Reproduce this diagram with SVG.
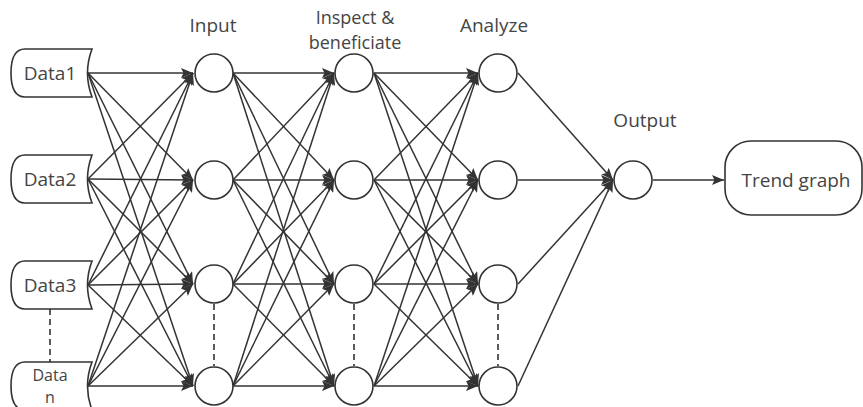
<svg xmlns="http://www.w3.org/2000/svg" width="863" height="407" viewBox="0 0 863 407">
  <style>
    .shape { fill: #ffffff; stroke: #333333; stroke-width: 1.6; }
    .edge { fill: none; stroke: #333333; stroke-width: 1.5; marker-end: url(#arrow); }
    .dash { fill: none; stroke: #333333; stroke-width: 1.6; stroke-dasharray: 6 4; }
    .label { font-family: "Open Sans", "Noto Sans", "DejaVu Sans", sans-serif; font-size: 19px; fill: #454545; text-anchor: middle; }
    .tight { font-size: 18px; }
    .small { font-size: 16px; }
  </style>
  <defs>
    <marker id="arrow" markerUnits="userSpaceOnUse" markerWidth="12" markerHeight="10" refX="12" refY="5" orient="auto">
      <path d="M0,0 L12,5 L0,10 L2.5,5 z" fill="#333333"/>
    </marker>
    <!-- stored-data shape: rounded left side, concave right side -->
    <path id="store" d="M-25,-24 L42,-24 Q33,0 42,24 L-25,24 C-36,24 -39,12 -39,0 C-39,-12 -36,-24 -25,-24 Z"/>
  </defs>
  <rect width="863" height="407" fill="#ffffff"/>

  <!-- column titles -->
  <g id="titles">
    <text class="label" x="213" y="32">Input</text>
    <text class="label tight" x="355" y="24">Inspect &amp;</text>
    <text class="label tight" x="355" y="49">beneficiate</text>
    <text class="label" x="494" y="32">Analyze</text>
    <text class="label" x="645" y="127">Output</text>
  </g>

  <!-- connectors -->
  <g id="connectors">
    <!-- data sources to input layer -->
    <path class="edge" d="M88,73 L193,73"/><path class="edge" d="M88,73 L193,180"/><path class="edge" d="M88,73 L193,284"/><path class="edge" d="M88,73 L193,386"/>
    <path class="edge" d="M88,179 L193,73"/><path class="edge" d="M88,179 L193,180"/><path class="edge" d="M88,179 L193,284"/><path class="edge" d="M88,179 L193,386"/>
    <path class="edge" d="M88,285 L193,73"/><path class="edge" d="M88,285 L193,180"/><path class="edge" d="M88,285 L193,284"/><path class="edge" d="M88,285 L193,386"/>
    <path class="edge" d="M88,386 L193,73"/><path class="edge" d="M88,386 L193,180"/><path class="edge" d="M88,386 L193,284"/><path class="edge" d="M88,386 L193,386"/>
    <!-- input layer to inspect layer -->
    <path class="edge" d="M233,73 L334,73"/><path class="edge" d="M233,73 L334,180"/><path class="edge" d="M233,73 L334,284"/><path class="edge" d="M233,73 L334,386"/>
    <path class="edge" d="M233,180 L334,73"/><path class="edge" d="M233,180 L334,180"/><path class="edge" d="M233,180 L334,284"/><path class="edge" d="M233,180 L334,386"/>
    <path class="edge" d="M233,284 L334,73"/><path class="edge" d="M233,284 L334,180"/><path class="edge" d="M233,284 L334,284"/><path class="edge" d="M233,284 L334,386"/>
    <path class="edge" d="M233,386 L334,73"/><path class="edge" d="M233,386 L334,180"/><path class="edge" d="M233,386 L334,284"/><path class="edge" d="M233,386 L334,386"/>
    <!-- inspect layer to analyze layer -->
    <path class="edge" d="M374,73 L478,73"/><path class="edge" d="M374,73 L478,180"/><path class="edge" d="M374,73 L478,284"/><path class="edge" d="M374,73 L478,386"/>
    <path class="edge" d="M374,180 L478,73"/><path class="edge" d="M374,180 L478,180"/><path class="edge" d="M374,180 L478,284"/><path class="edge" d="M374,180 L478,386"/>
    <path class="edge" d="M374,284 L478,73"/><path class="edge" d="M374,284 L478,180"/><path class="edge" d="M374,284 L478,284"/><path class="edge" d="M374,284 L478,386"/>
    <path class="edge" d="M374,386 L478,73"/><path class="edge" d="M374,386 L478,180"/><path class="edge" d="M374,386 L478,284"/><path class="edge" d="M374,386 L478,386"/>
    <!-- analyze layer to output -->
    <path class="edge" d="M518,73 L613,180"/><path class="edge" d="M518,180 L613,180"/><path class="edge" d="M518,284 L613,180"/><path class="edge" d="M518,386 L613,180"/>
    <!-- output to trend graph -->
    <path class="edge" d="M653,180 L724,180"/>
    <!-- ellipsis markers between rows 3 and n -->
    <path class="dash" d="M50,309 L50,362"/>
    <path class="dash" d="M214,304 L214,366"/>
    <path class="dash" d="M354,304 L354,366"/>
    <path class="dash" d="M498,304 L498,366"/>
  </g>

  <!-- data sources -->
  <g id="data1"><use href="#store" class="shape" x="50" y="73"/><text class="label" x="50" y="80">Data1</text></g>
  <g id="data2"><use href="#store" class="shape" x="50" y="179"/><text class="label" x="50" y="186">Data2</text></g>
  <g id="data3"><use href="#store" class="shape" x="50" y="285"/><text class="label" x="50" y="292">Data3</text></g>
  <g id="datan"><use href="#store" class="shape" x="50" y="386"/><text class="label small" x="50" y="381">Data</text><text class="label small" x="50" y="403">n</text></g>

  <!-- input layer -->
  <g id="in1"><circle class="shape" cx="214" cy="73" r="19"/></g>
  <g id="in2"><circle class="shape" cx="214" cy="180" r="19"/></g>
  <g id="in3"><circle class="shape" cx="214" cy="284" r="19"/></g>
  <g id="in4"><circle class="shape" cx="214" cy="386" r="19"/></g>

  <!-- inspect layer -->
  <g id="ins1"><circle class="shape" cx="354" cy="73" r="19"/></g>
  <g id="ins2"><circle class="shape" cx="354" cy="180" r="19"/></g>
  <g id="ins3"><circle class="shape" cx="354" cy="284" r="19"/></g>
  <g id="ins4"><circle class="shape" cx="354" cy="386" r="19"/></g>

  <!-- analyze layer -->
  <g id="an1"><circle class="shape" cx="498" cy="73" r="19"/></g>
  <g id="an2"><circle class="shape" cx="498" cy="180" r="19"/></g>
  <g id="an3"><circle class="shape" cx="498" cy="284" r="19"/></g>
  <g id="an4"><circle class="shape" cx="498" cy="386" r="19"/></g>

  <!-- output -->
  <g id="out"><circle class="shape" cx="633" cy="180" r="19"/></g>

  <!-- trend graph -->
  <g id="trend">
    <rect class="shape" x="725" y="141" width="137" height="74" rx="26" ry="26"/>
    <text class="label" x="796" y="187">Trend graph</text>
  </g>
</svg>
